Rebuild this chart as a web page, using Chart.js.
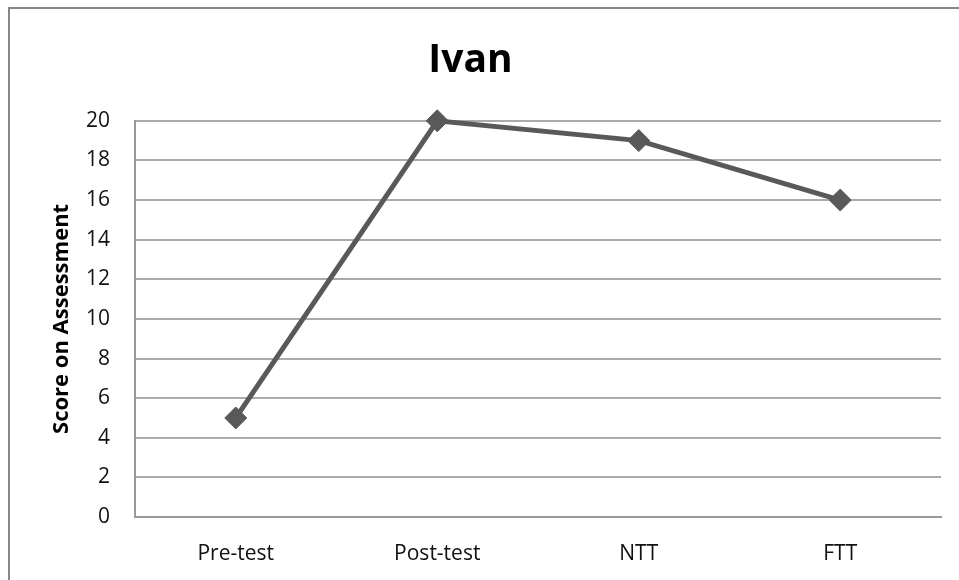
<!DOCTYPE html>
<html>
<head>
<meta charset="utf-8">
<script src="https://cdn.jsdelivr.net/npm/chart.js@4/dist/chart.umd.min.js"></script>
<style>
  html, body { margin: 0; padding: 0; background: #fff; overflow: hidden; }
  #frame { position: absolute; left: 8px; top: 7px; width: 1200px; height: 900px; border: 2px solid #878787; box-sizing: border-box; }
  #wrap { position: absolute; left: 0; top: 0; width: 959px; height: 580px; }
</style>
</head>
<body>
<div id="frame"></div>
<div id="wrap"><canvas id="c" width="959" height="580"></canvas></div>
<script>
const chartTitle = "Ivan";
const yAxisTitle = "Score on Assessment";
const categories = ["Pre-test", "Post-test", "NTT", "FTT"];
const scores = [5, 20, 19, 16];
const yMin = 0, yMax = 20, yStep = 2;

const FONT = "'Open Sans', 'DejaVu Sans', sans-serif";

new Chart(document.getElementById('c'), {
  type: 'line',
  data: {
    labels: categories,
    datasets: [{
      data: scores,
      borderColor: '#595959',
      backgroundColor: '#595959',
      borderWidth: 5,
      pointStyle: 'rectRot',
      pointRadius: 11,
      pointBorderWidth: 1,
      pointBackgroundColor: '#595959',
      pointBorderColor: '#595959',
      tension: 0,
      fill: false,
      clip: false
    }]
  },
  options: {
    responsive: false,
    animation: false,
    devicePixelRatio: 1,
    layout: { padding: { left: 0, right: 18, top: 0, bottom: 0 } },
    plugins: {
      legend: { display: false },
      tooltip: { enabled: false },
      title: {
        display: true,
        text: chartTitle,
        color: '#000',
        font: { family: FONT, size: 39, weight: 'bold' },
        padding: { top: 37, bottom: 37 }
      }
    },
    scales: {
      x: {
        offset: true,
        grid: { display: false, drawTicks: false },
        border: { display: true, color: '#9a9a9a', width: 2 },
        ticks: { color: '#111', font: { family: FONT, size: 21 }, padding: 24 },
        afterFit: (s) => { s.height = 63; }
      },
      y: {
        min: yMin, max: yMax,
        grid: { color: '#ababab', lineWidth: 2, drawTicks: false },
        border: { display: true, color: '#9a9a9a', width: 2 },
        ticks: { stepSize: yStep, color: '#111', font: { family: FONT, size: 21 }, padding: 25 },
        title: {
          display: true,
          text: yAxisTitle,
          color: '#000',
          font: { family: FONT, size: 22, weight: 'bold' },
          padding: { top: 49, bottom: 0 }
        },
        afterFit: (s) => { s.width = 135; }
      }
    }
  }
});
</script>
</body>
</html>
